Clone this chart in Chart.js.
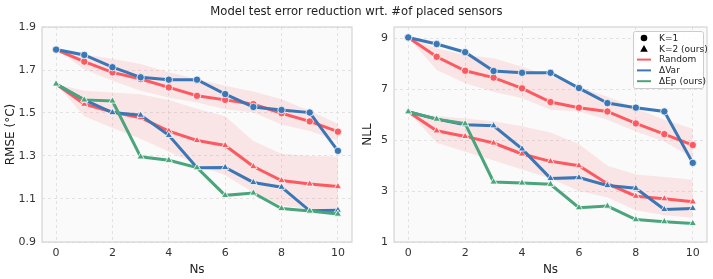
<!DOCTYPE html>
<html>
<head>
<meta charset="utf-8">
<script src="https://cdn.jsdelivr.net/npm/chart.js@4.4.0/dist/chart.umd.min.js"></script>
<style>
  body { margin: 0; background: #fff; font-family: "DejaVu Sans", sans-serif; }
  #wrap { position: relative; width: 713px; height: 279px; }
  #title { position: absolute; top: 4px; left: 0; width: 713px; text-align: center; font-size: 11.6px; color: #222; z-index: 2; }
  canvas { position: absolute; top: 0; }
</style>
</head>
<body>
<div id="wrap">
  <div id="title">Model test error reduction wrt. #of placed sensors</div>
  <canvas id="rmse" width="357" height="279" style="left:0"></canvas>
  <canvas id="nll" width="356" height="279" style="left:357px"></canvas>
</div>
<script>
// number of placed sensors
var ns = [0, 1, 2, 3, 4, 5, 6, 7, 8, 9, 10];

// RMSE (left)
var rmseRandK1   = [1.795, 1.739, 1.689, 1.658, 1.619, 1.580, 1.561, 1.541, 1.499, 1.461, 1.413];
var rmseRandK1Hi = [1.795, 1.772, 1.752, 1.728, 1.690, 1.658, 1.627, 1.600, 1.564, 1.510, 1.450];
var rmseRandK1Lo = [1.795, 1.704, 1.650, 1.603, 1.571, 1.549, 1.517, 1.502, 1.447, 1.416, 1.370];
var rmseVarK1    = [1.795, 1.770, 1.713, 1.666, 1.655, 1.655, 1.588, 1.528, 1.514, 1.502, 1.324];
var rmseRandK2   = [1.635, 1.541, 1.505, 1.478, 1.416, 1.372, 1.349, 1.251, 1.186, 1.170, 1.158];
var rmseRandK2Hi = [1.635, 1.603, 1.595, 1.587, 1.560, 1.520, 1.485, 1.370, 1.310, 1.300, 1.298];
var rmseRandK2Lo = [1.635, 1.485, 1.430, 1.380, 1.320, 1.260, 1.210, 1.130, 1.070, 1.052, 1.050];
var rmseVarK2    = [1.635, 1.561, 1.502, 1.490, 1.396, 1.245, 1.247, 1.177, 1.155, 1.045, 1.048];
var rmseEpK2     = [1.635, 1.561, 1.556, 1.296, 1.280, 1.246, 1.117, 1.128, 1.056, 1.044, 1.030];
var rmseTicks = [0.9, 1.1, 1.3, 1.5, 1.7, 1.9];

// NLL (right)
var nllRandK1   = [9.04, 8.28, 7.73, 7.46, 7.04, 6.50, 6.28, 6.13, 5.66, 5.24, 4.81];
var nllRandK1Hi = [9.04, 8.61, 8.35, 8.22, 7.89, 7.50, 7.10, 6.71, 6.26, 5.80, 5.45];
var nllRandK1Lo = [9.04, 7.76, 7.24, 6.91, 6.65, 6.20, 6.13, 5.80, 5.34, 4.95, 4.30];
var nllVarK1    = [9.04, 8.78, 8.46, 7.72, 7.65, 7.65, 7.05, 6.46, 6.28, 6.13, 4.11];
var nllRandK2   = [6.12, 5.37, 5.15, 4.89, 4.46, 4.17, 4.00, 3.29, 2.80, 2.70, 2.58];
var nllRandK2Hi = [6.12, 5.95, 5.85, 5.75, 5.55, 5.30, 4.85, 4.00, 3.65, 3.55, 3.45];
var nllRandK2Lo = [6.12, 4.90, 4.55, 4.20, 3.85, 3.50, 3.00, 2.75, 2.25, 2.05, 1.95];
var nllVarK2    = [6.12, 5.83, 5.61, 5.57, 4.66, 3.50, 3.53, 3.22, 3.11, 2.28, 2.32];
var nllEpK2     = [6.12, 5.83, 5.65, 3.36, 3.32, 3.27, 2.35, 2.41, 1.88, 1.80, 1.73];
var nllTicks = [1, 3, 5, 7, 9];

var xTicks = [0, 2, 4, 6, 8, 10];

var RED = '#fc5a61', BLUE = '#3b76b5', GREEN = '#4aa57c', BAND = 'rgba(252,90,97,0.13)';

function pts(ys) {
  return ns.map(function (x, i) { return { x: x, y: ys[i] }; });
}

function line(ys, color, marker) {
  return {
    data: pts(ys), borderColor: color, backgroundColor: color,
    borderWidth: 3, pointStyle: marker, pointRadius: marker == 'triangle' ? 4.2 : 3.7,
    pointBorderColor: '#fff', pointBorderWidth: 0.8, order: 0
  };
}

function band(hi, lo, idx) {
  return [
    { data: pts(hi), borderWidth: 0, pointRadius: 0, fill: false, order: 10 },
    { data: pts(lo), borderWidth: 0, pointRadius: 0, fill: { target: idx }, backgroundColor: BAND, order: 10 }
  ];
}

var frame = {
  id: 'frame',
  beforeDraw: function (chart) {
    var a = chart.chartArea, c = chart.ctx;
    c.save();
    c.fillStyle = '#fafafa';
    c.fillRect(a.left, a.top, a.right - a.left, a.bottom - a.top);
    c.restore();
  },
  afterDraw: function (chart) {
    var a = chart.chartArea, c = chart.ctx;
    c.save();
    c.strokeStyle = '#d4d4d4';
    c.lineWidth = 1.2;
    c.strokeRect(a.left, a.top, a.right - a.left, a.bottom - a.top);
    c.restore();
  }
};

var legendBox = {
  id: 'legendBox',
  afterDraw: function (chart) {
    var a = chart.chartArea, c = chart.ctx;
    var x = a.right - 74, y = a.top + 4, w = 70, h = 57;
    c.save();
    c.fillStyle = 'rgba(255,255,255,0.85)';
    c.strokeStyle = '#cccccc';
    c.lineWidth = 1;
    c.beginPath();
    c.roundRect(x + 0.5, y + 0.5, w, h, 2);
    c.fill();
    c.stroke();
    var items = [
      { label: 'K=1', kind: 'circle' },
      { label: 'K=2 (ours)', kind: 'triangle' },
      { label: 'Random', kind: 'line', color: RED },
      { label: '\u0394Var', kind: 'line', color: BLUE },
      { label: '\u0394Ep (ours)', kind: 'line', color: GREEN }
    ];
    c.font = '9px "DejaVu Sans"';
    c.textBaseline = 'middle';
    items.forEach(function (it, i) {
      var cy = y + 7 + i * 10.8, mx = x + 11;
      if (it.kind == 'circle') {
        c.fillStyle = '#000';
        c.beginPath(); c.arc(mx, cy, 3.3, 0, Math.PI * 2); c.fill();
      } else if (it.kind == 'triangle') {
        c.fillStyle = '#000';
        c.beginPath(); c.moveTo(mx, cy - 3.8); c.lineTo(mx + 3.8, cy + 3); c.lineTo(mx - 3.8, cy + 3); c.closePath(); c.fill();
      } else {
        c.strokeStyle = it.color; c.lineWidth = 2;
        c.beginPath(); c.moveTo(mx - 7, cy); c.lineTo(mx + 7, cy); c.stroke();
      }
      c.fillStyle = '#222';
      c.fillText(it.label, x + 26, cy + 0.5);
    });
    c.restore();
  }
};

function makeChart(id, sets, yMin, yMax, yTicks, yTitle, yWidth, padRight, fmt, extra) {
  var plugins = [frame];
  if (extra) plugins.push(extra);
  return new Chart(document.getElementById(id), {
    type: 'line',
    data: { datasets: sets },
    plugins: plugins,
    options: {
      responsive: false,
      animation: false,
      layout: { padding: { top: 27, right: padRight, left: 4, bottom: 2 } },
      plugins: { legend: { display: false }, tooltip: { enabled: false } },
      scales: {
        x: {
          type: 'linear', min: -0.5, max: 10.5,
          afterBuildTicks: function (s) { s.ticks = xTicks.map(function (v) { return { value: v }; }); },
          afterFit: function (s) { s.height = 35; },
          grid: { color: '#e2e2e2', drawTicks: false },
          border: { display: false, dash: [3, 3] },
          ticks: { padding: 5, color: '#333', font: { family: 'DejaVu Sans', size: 11 }, maxRotation: 0 },
          title: { display: true, text: 'Ns', color: '#222', font: { family: 'DejaVu Sans', size: 12 }, padding: { top: 0, bottom: 0 } }
        },
        y: {
          min: yMin, max: yMax,
          afterBuildTicks: function (s) { s.ticks = yTicks.map(function (v) { return { value: v }; }); },
          afterFit: function (s) { s.width = yWidth; },
          grid: { color: '#e2e2e2', drawTicks: false },
          border: { display: false, dash: [3, 3] },
          ticks: { padding: 6, color: '#333', font: { family: 'DejaVu Sans', size: 11 }, callback: fmt },
          title: { display: true, text: yTitle, color: '#222', font: { family: 'DejaVu Sans', size: 12 }, padding: { top: 0, bottom: 0 } }
        }
      }
    }
  });
}

var leftSets = [
  line(rmseEpK2, GREEN, 'triangle'),
  line(rmseVarK2, BLUE, 'triangle'),
  line(rmseVarK1, BLUE, 'circle'),
  line(rmseRandK2, RED, 'triangle'),
  line(rmseRandK1, RED, 'circle')
].concat(band(rmseRandK1Hi, rmseRandK1Lo, 5)).concat(band(rmseRandK2Hi, rmseRandK2Lo, 7));

var rightSets = [
  line(nllEpK2, GREEN, 'triangle'),
  line(nllVarK2, BLUE, 'triangle'),
  line(nllVarK1, BLUE, 'circle'),
  line(nllRandK2, RED, 'triangle'),
  line(nllRandK1, RED, 'circle')
].concat(band(nllRandK1Hi, nllRandK1Lo, 5)).concat(band(nllRandK2Hi, nllRandK2Lo, 7));

makeChart('rmse', leftSets, 0.9, 1.9, rmseTicks, 'RMSE (\u00b0C)', 38, 2,
  function (v) { return v.toFixed(1); });
makeChart('nll', rightSets, 1, 9.45, nllTicks, 'NLL', 33, 6,
  function (v) { return String(v); }, legendBox);
</script>
</body>
</html>
